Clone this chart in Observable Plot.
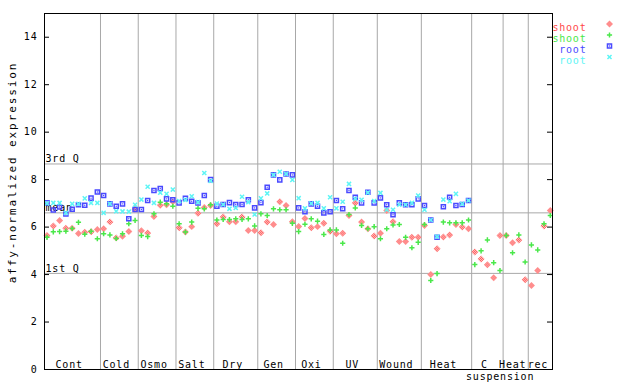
<!DOCTYPE html>
<html><head><meta charset="utf-8">
<script src="https://cdn.jsdelivr.net/npm/d3@7"></script>
<script src="https://cdn.jsdelivr.net/npm/@observablehq/plot@0.6"></script>
<style>body{margin:0;background:#fff} #chart{width:640px;height:384px;overflow:hidden}</style>
</head><body><div id="chart"></div>
<script>
// ---- data ----
const groups = ["Cont","Cold","Osmo","Salt","Dry","Gen","Oxi","UV","Wound","Heat","C","Heat","rec"];
const groupSizes = [9,6,6,6,7,6,6,7,7,8,5,4,4];
const subLabel = "suspension";
const yLabel = "affy-normalized expression";
const seriesNames = ["shoot","shoot","root","root"];
const seriesColors = ["#ff4a4a","#4ae84a","#4a4aff","#5ef5f5"];
const quartileLabels = ["1st Q","mean","3rd Q"];
const quartileValues = [4.05, 6.60, 8.66];
const yTicks = [0,2,4,6,8,10,12,14];

const shoot1 = [
 5.65,6.05,6.28,5.95,5.95,5.73,5.78,5.80,5.90,
 5.93,6.22,5.54,5.61,5.81,6.75,
 5.85,5.75,6.45,6.92,6.94,7.07,
 5.97,5.79,6.02,6.58,6.83,6.91,
 6.14,6.43,6.23,6.23,6.43,5.86,5.86,
 5.76,6.21,6.11,7.07,6.91,6.23,
 6.03,6.36,5.97,6.02,6.16,5.83,
 5.72,5.74,6.49,7.02,6.21,5.93,5.62,
 5.74,6.70,6.23,5.39,5.39,5.57,5.57,
 6.07,4.00,5.09,5.58,5.67,6.11,6.00,5.93,
 4.95,4.66,4.41,3.87,5.65,
 5.65,5.34,5.46,3.78,
 3.54,4.17,6.05,6.70];
const shoot2 = [
 5.57,5.80,5.81,5.83,5.94,6.20,5.70,5.82,5.51,
 5.72,5.67,5.52,5.72,6.14,6.28,
 5.65,5.60,6.56,7.05,6.98,6.88,
 6.14,5.79,6.21,6.79,6.77,6.94,
 6.30,6.32,6.32,6.35,6.32,6.35,6.05,
 6.56,6.49,6.77,6.73,6.73,6.16,
 5.81,6.12,6.35,6.25,5.69,5.88,
 5.88,5.32,6.53,6.81,6.07,5.93,6.02,
 5.51,5.93,6.09,6.11,5.57,5.13,5.36,
 6.11,3.75,4.04,6.21,6.18,6.18,6.18,6.30,
 4.42,5.00,5.46,4.50,4.17,
 5.65,4.92,5.67,4.53,
 5.25,5.04,6.14,6.49];
const root1 = [
 7.02,6.72,6.85,6.55,6.75,6.94,6.92,7.22,7.48,
 7.33,6.98,6.88,6.98,6.35,6.74,
 6.74,7.12,7.54,7.63,7.19,7.15,
 7.02,7.21,7.09,7.02,7.33,8.00,
 6.88,6.95,7.03,6.95,6.95,7.15,6.81,
 7.03,7.68,8.20,7.99,8.24,8.20,
 6.81,6.65,6.98,6.88,6.60,6.65,
 7.12,6.77,7.54,7.26,7.02,7.47,7.02,
 7.23,6.94,6.52,7.02,6.94,6.94,7.19,
 6.91,6.30,5.57,6.86,7.26,6.91,6.95,7.12];
const root2 = [
 7.00,7.02,7.02,6.60,6.98,6.98,7.21,7.02,7.02,
 6.60,6.98,6.67,6.66,6.65,6.94,
 7.16,7.70,7.02,7.45,7.40,7.58,
 7.10,7.15,7.30,7.05,8.28,7.95,
 6.99,6.95,6.77,6.81,7.28,7.05,6.53,
 7.21,7.42,8.20,8.33,8.24,7.99,
 7.22,6.79,7.00,7.02,6.79,7.26,
 6.79,7.07,7.82,7.19,7.15,7.45,7.10,
 7.44,6.73,6.73,6.94,6.94,7.02,7.33,
 6.73,6.30,5.60,7.16,7.09,7.40,6.98,7.12];

// ---- derived tables ----
const pts = arr => arr.map((v, i) => ({i, v}));
const cum = d3.cumsum(groupSizes);
const separators = Array.from(cum).slice(0, -1).map(c => c - 0.5);
const groupLabels = groups.map((g, k) => ({
  label: g,
  center: ((k ? cum[k-1] : 0) - 0.5 + cum[k] - 0.5) / 2
}));
const quartiles = quartileValues.map((v, k) => ({v, label: quartileLabels[k]}));
const [RED, GREEN, BLUE, CYAN] = seriesColors;
const FW = 640 - 44 - 88;

const legendMarks = [];
const legendSymbols = [
  {symbol: "diamond2", r: 3.15, fill: "url(#chk)", stroke: "none"},
  {symbol: "plus", r: 1.8, fill: "none", stroke: GREEN},
  {symbol: "square", r: 2.3, fill: "none", stroke: BLUE},
  {symbol: "times", r: 2.0, fill: "none", stroke: CYAN}
];
seriesNames.forEach((name, k) => {
  const dy = 10.5 + 11 * k;
  legendMarks.push(Plot.text([name], {frameAnchor: "top-right", dx: 34, dy, textAnchor: "end", fill: seriesColors[k]}));
  legendMarks.push(Plot.dot([0], {frameAnchor: "top-right", dx: 57, dy, ...legendSymbols[k]}));
  if (k === 2) legendMarks.push(Plot.dot([0], {frameAnchor: "top-right", dx: 57, dy, r: 0.7, fill: BLUE}));
});

const chart = Plot.plot({
  width: 640, height: 384,
  marginLeft: 44, marginRight: 88, marginTop: 13, marginBottom: 15,
  x: {domain: [-0.4, 80.35], axis: null},
  y: {domain: [0, 15], axis: null},
  style: {fontFamily: "'DejaVu Sans Mono', monospace", fontSize: "10px", background: "white", color: "black"},
  marks: [
    Plot.ruleX(separators, {stroke: "#a8a8a8"}),
    Plot.ruleY(quartiles, {y: "v", stroke: "#a8a8a8"}),
    Plot.text(quartiles, {y: "v", text: "label", frameAnchor: "left", dx: 1, dy: -1.5, textAnchor: "start", lineAnchor: "bottom", fill: "black"}),
    Plot.text(groupLabels, {x: "center", text: "label", frameAnchor: "bottom", dx: -3, dy: -2, lineAnchor: "bottom", fill: "black"}),
    Plot.text([subLabel], {x: separators[10], frameAnchor: "bottom", dx: -3, dy: 10, lineAnchor: "bottom", fill: "black"}),
    Plot.tickY(yTicks, {y: d => d, insetRight: FW - 5, stroke: "black"}),
    Plot.tickY(yTicks, {y: d => d, insetLeft: FW - 5, stroke: "black"}),
    Plot.text(yTicks, {y: d => d, text: d => String(d), frameAnchor: "left", dx: -7, textAnchor: "end", fill: "black"}),
    Plot.text([yLabel], {frameAnchor: "left", rotate: -90, dx: -32, dy: -19, textAnchor: "middle", fill: "black", fontSize: 11}),
    Plot.dot(pts(shoot1), {x: "i", y: "v", symbol: "diamond2", r: 3.15, fill: "url(#chk)", stroke: "none"}),
    Plot.dot(pts(shoot2), {x: "i", y: "v", symbol: "plus", r: 1.8, fill: "none", stroke: GREEN}),
    Plot.dot(pts(root1), {x: "i", y: "v", symbol: "square", r: 2.3, fill: "none", stroke: BLUE}),
    Plot.dot(pts(root1), {x: "i", y: "v", r: 0.7, fill: BLUE, stroke: "none"}),
    Plot.dot(pts(root2), {x: "i", y: "v", symbol: "times", r: 2.0, fill: "none", stroke: CYAN}),
    Plot.frame({stroke: "black"}),
    ...legendMarks
  ]
});

const ns = "http://www.w3.org/2000/svg";
const defs = document.createElementNS(ns, "defs");
defs.innerHTML = `<pattern id="chk" width="2" height="2" patternUnits="userSpaceOnUse"><rect width="2" height="2" fill="#ffd0d0"/><rect width="1" height="1" fill="${RED}"/><rect x="1" y="1" width="1" height="1" fill="${RED}"/></pattern>`;
chart.insertBefore(defs, chart.firstChild);
chart.querySelectorAll("text").forEach(t => { t.style.letterSpacing = "0.8px"; });
chart.querySelectorAll("text").forEach(t => { if (t.textContent === yLabel) t.style.letterSpacing = "1.9px"; });
document.getElementById("chart").appendChild(chart);
</script>
</body></html>
